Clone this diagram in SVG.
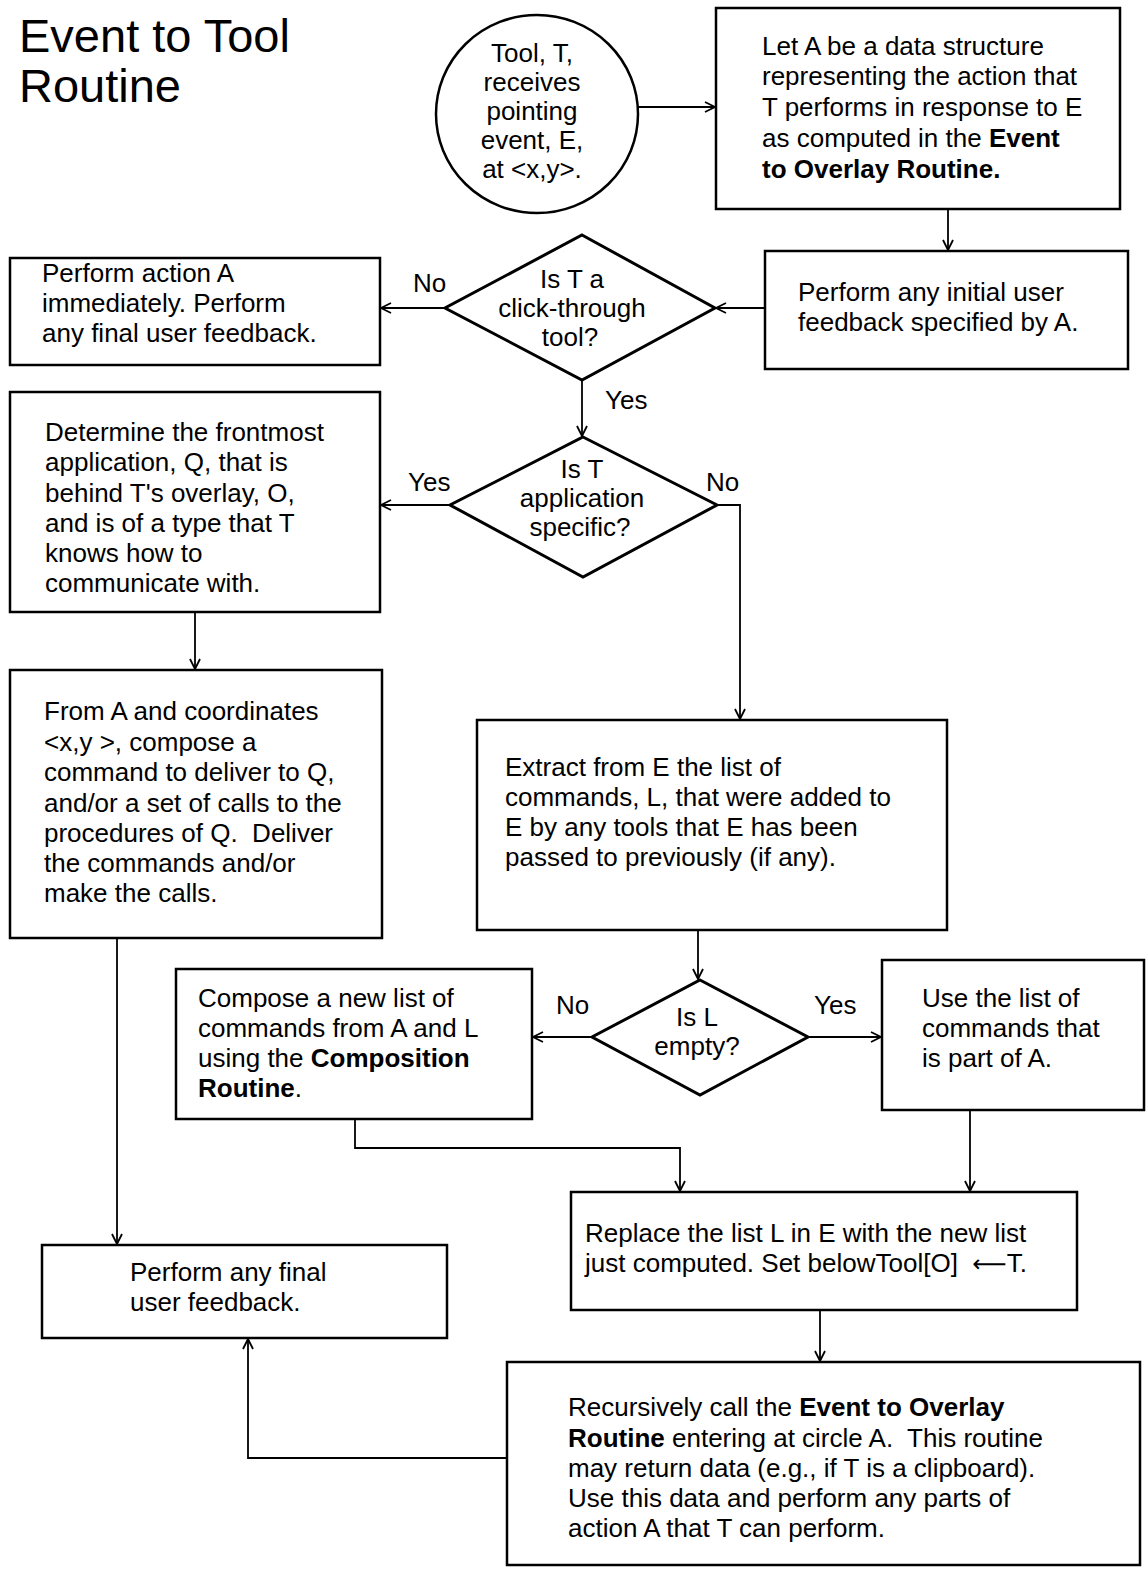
<svg xmlns="http://www.w3.org/2000/svg" width="1147" height="1572" viewBox="0 0 1147 1572">
<style>
text{font-family:"Liberation Sans",Arial,sans-serif;font-size:26px;fill:#000}
.t{font-size:47px}
.c{text-anchor:middle}
.b{font-weight:bold}
.box{fill:#fff;stroke:#000;stroke-width:2.5}
.dia{fill:#fff;stroke:#000;stroke-width:3}
.ln{fill:none;stroke:#000;stroke-width:1.8}
</style>
<defs>
<marker id="ah" viewBox="0 0 12 12" refX="11" refY="6" markerWidth="12" markerHeight="12" markerUnits="userSpaceOnUse" orient="auto">
<path d="M1,1 L11,6 L1,11" fill="none" stroke="#000" stroke-width="1.8"/>
</marker>
</defs>
<rect width="1147" height="1572" fill="#fff"/>
<g id="title">
<text class="t" x="19" y="52">Event to Tool</text>
<text class="t" x="19" y="102">Routine</text>
</g>
<g id="start">
<ellipse cx="537" cy="114" rx="101" ry="99" class="box"/>
<text class="c" x="532" y="62">Tool, T,</text>
<text class="c" x="532" y="91">receives</text>
<text class="c" x="532" y="120">pointing</text>
<text class="c" x="532" y="149">event, E,</text>
<text class="c" x="532" y="178">at &lt;x,y&gt;.</text>
</g>
<g id="letA">
<rect x="716" y="8" width="404" height="201" class="box"/>
<text x="762" y="55">Let A be a data structure</text>
<text x="762" y="85">representing the action that</text>
<text x="762" y="116">T performs in response to E</text>
<text x="762" y="147">as computed in the <tspan class="b">Event</tspan></text>
<text x="762" y="178" class="b">to Overlay Routine.</text>
</g>
<g id="initialFeedback">
<rect x="765" y="251" width="363" height="118" class="box"/>
<text x="798" y="301">Perform any initial user</text>
<text x="798" y="331">feedback specified by A.</text>
</g>
<g id="clickThrough">
<polygon points="582,235 715,308 582,380 445,308" class="dia"/>
<text class="c" x="572" y="288">Is T a</text>
<text class="c" x="572" y="317">click-through</text>
<text class="c" x="570" y="346">tool?</text>
</g>
<g id="performNow">
<rect x="10" y="258" width="370" height="107" class="box"/>
<text x="42" y="282">Perform action A</text>
<text x="42" y="312">immediately. Perform</text>
<text x="42" y="342">any final user feedback.</text>
</g>
<g id="appSpecific">
<polygon points="583,437 717,505 583,577 450,505" class="dia"/>
<text class="c" x="582" y="478">Is T</text>
<text class="c" x="582" y="507">application</text>
<text class="c" x="580" y="536">specific?</text>
</g>
<g id="determine">
<rect x="10" y="392" width="370" height="220" class="box"/>
<text x="45" y="441">Determine the frontmost</text>
<text x="45" y="471">application, Q, that is</text>
<text x="45" y="502">behind T's overlay, O,</text>
<text x="45" y="532">and is of a type that T</text>
<text x="45" y="562">knows how to</text>
<text x="45" y="592">communicate with.</text>
</g>
<g id="compose">
<rect x="10" y="670" width="372" height="268" class="box"/>
<text x="44" y="720">From A and coordinates</text>
<text x="44" y="751">&lt;x,y &gt;, compose a</text>
<text x="44" y="781">command to deliver to Q,</text>
<text x="44" y="812">and/or a set of calls to the</text>
<text x="44" y="842" xml:space="preserve">procedures of Q.  Deliver</text>
<text x="44" y="872">the commands and/or</text>
<text x="44" y="902">make the calls.</text>
</g>
<g id="extract">
<rect x="477" y="720" width="470" height="210" class="box"/>
<text x="505" y="776">Extract from E the list of</text>
<text x="505" y="806">commands, L, that were added to</text>
<text x="505" y="836">E by any tools that E has been</text>
<text x="505" y="866">passed to previously (if any).</text>
</g>
<g id="isEmpty">
<polygon points="700,980 808,1037 700,1095 592,1037" class="dia"/>
<text class="c" x="697" y="1026">Is L</text>
<text class="c" x="697" y="1055">empty?</text>
</g>
<g id="composeList">
<rect x="176" y="969" width="356" height="150" class="box"/>
<text x="198" y="1007">Compose a new list of</text>
<text x="198" y="1037">commands from A and L</text>
<text x="198" y="1067">using the <tspan class="b">Composition</tspan></text>
<text x="198" y="1097" class="b">Routine<tspan font-weight="normal">.</tspan></text>
</g>
<g id="useList">
<rect x="882" y="960" width="262" height="150" class="box"/>
<text x="922" y="1007">Use the list of</text>
<text x="922" y="1037">commands that</text>
<text x="922" y="1067">is part of A.</text>
</g>
<g id="replace">
<rect x="571" y="1192" width="506" height="118" class="box"/>
<text x="585" y="1242">Replace the list L in E with the new list</text>
<text x="585" y="1272" xml:space="preserve">just computed. Set belowTool[O]  <tspan font-family="DejaVu Sans, sans-serif" font-size="24">⟵</tspan>T.</text>
</g>
<g id="finalFeedback">
<rect x="42" y="1245" width="405" height="93" class="box"/>
<text x="130" y="1281">Perform any final</text>
<text x="130" y="1311">user feedback.</text>
</g>
<g id="recurse">
<rect x="507" y="1362" width="633" height="203" class="box"/>
<text x="568" y="1416">Recursively call the <tspan class="b">Event to Overlay</tspan></text>
<text x="568" y="1447" xml:space="preserve"><tspan class="b">Routine</tspan> entering at circle A.  This routine</text>
<text x="568" y="1477">may return data (e.g., if T is a clipboard).</text>
<text x="568" y="1507">Use this data and perform any parts of</text>
<text x="568" y="1537">action A that T can perform.</text>
</g>
<g id="connectors">
<path class="ln" d="M638,107 H715" marker-end="url(#ah)"/>
<path class="ln" d="M948,209 V250" marker-end="url(#ah)"/>
<path class="ln" d="M765,308 H716" marker-end="url(#ah)"/>
<path class="ln" d="M445,308 H381" marker-end="url(#ah)"/>
<path class="ln" d="M582,380 V436" marker-end="url(#ah)"/>
<path class="ln" d="M450,505 H381" marker-end="url(#ah)"/>
<path class="ln" d="M717,505 H740 V719" marker-end="url(#ah)"/>
<path class="ln" d="M195,612 V669" marker-end="url(#ah)"/>
<path class="ln" d="M698,930 V979" marker-end="url(#ah)"/>
<path class="ln" d="M592,1037 H533" marker-end="url(#ah)"/>
<path class="ln" d="M808,1037 H881" marker-end="url(#ah)"/>
<path class="ln" d="M355,1119 V1148 H680 V1191" marker-end="url(#ah)"/>
<path class="ln" d="M970,1110 V1191" marker-end="url(#ah)"/>
<path class="ln" d="M117,938 V1244" marker-end="url(#ah)"/>
<path class="ln" d="M820,1310 V1361" marker-end="url(#ah)"/>
<path class="ln" d="M507,1458 H248 V1339" marker-end="url(#ah)"/>
<text x="413" y="292">No</text>
<text x="605" y="409">Yes</text>
<text x="408" y="491">Yes</text>
<text x="706" y="491">No</text>
<text x="556" y="1014">No</text>
<text x="814" y="1014">Yes</text>
</g>
</svg>
